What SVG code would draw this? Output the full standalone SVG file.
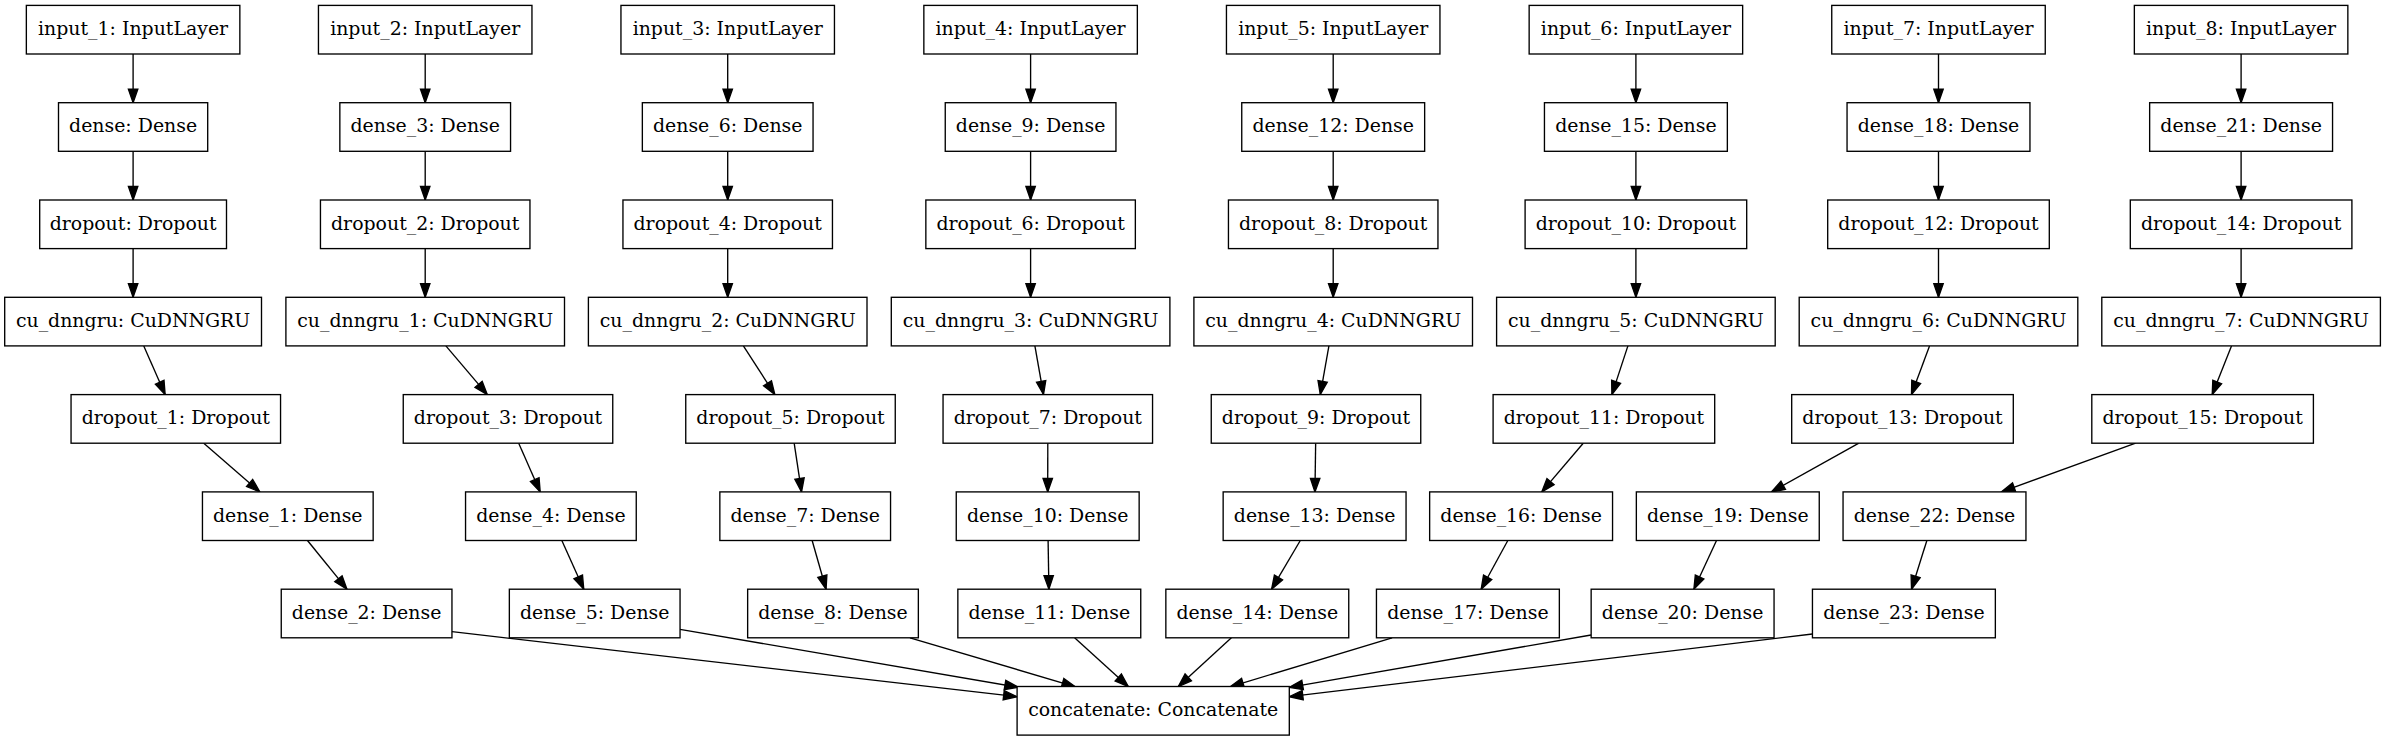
<svg xmlns="http://www.w3.org/2000/svg" width="2386" height="741" viewBox="0 0 2386 741">
<defs>
<style>
.n rect{fill:#fff;stroke:#000;stroke-width:1.35}
.n text{font-family:"DejaVu Serif",serif;font-size:18.9px;fill:#000;text-anchor:middle}
.e line{stroke:#000;stroke-width:1.35;fill:none;marker-end:url(#ah)}
</style>
<marker id="ah" markerUnits="userSpaceOnUse" markerWidth="16" markerHeight="12" refX="13.5" refY="0" orient="auto" viewBox="-1 -6 16 12" overflow="visible">
<path d="M0,-4.7 L13.5,0 L0,4.7 Z" fill="#000" stroke="#000" stroke-width="1.35"/>
</marker>
</defs>
<rect width="2386" height="741" fill="#fff"/>
<g id="connectors" class="e">
<!-- chain vertical edges -->
<line x1="133.1" y1="54" x2="133.1" y2="102.7"/>
<line x1="133.1" y1="151.3" x2="133.1" y2="200"/>
<line x1="133.1" y1="248.6" x2="133.1" y2="297.3"/>
<line x1="425.2" y1="54" x2="425.2" y2="102.7"/>
<line x1="425.2" y1="151.3" x2="425.2" y2="200"/>
<line x1="425.2" y1="248.6" x2="425.2" y2="297.3"/>
<line x1="727.7" y1="54" x2="727.7" y2="102.7"/>
<line x1="727.7" y1="151.3" x2="727.7" y2="200"/>
<line x1="727.7" y1="248.6" x2="727.7" y2="297.3"/>
<line x1="1030.6" y1="54" x2="1030.6" y2="102.7"/>
<line x1="1030.6" y1="151.3" x2="1030.6" y2="200"/>
<line x1="1030.6" y1="248.6" x2="1030.6" y2="297.3"/>
<line x1="1333.2" y1="54" x2="1333.2" y2="102.7"/>
<line x1="1333.2" y1="151.3" x2="1333.2" y2="200"/>
<line x1="1333.2" y1="248.6" x2="1333.2" y2="297.3"/>
<line x1="1635.9" y1="54" x2="1635.9" y2="102.7"/>
<line x1="1635.9" y1="151.3" x2="1635.9" y2="200"/>
<line x1="1635.9" y1="248.6" x2="1635.9" y2="297.3"/>
<line x1="1938.5" y1="54" x2="1938.5" y2="102.7"/>
<line x1="1938.5" y1="151.3" x2="1938.5" y2="200"/>
<line x1="1938.5" y1="248.6" x2="1938.5" y2="297.3"/>
<line x1="2241.1" y1="54" x2="2241.1" y2="102.7"/>
<line x1="2241.1" y1="151.3" x2="2241.1" y2="200"/>
<line x1="2241.1" y1="248.6" x2="2241.1" y2="297.3"/>
<!-- row3 -> row4 -->
<line x1="143.76" y1="345.9" x2="165.14" y2="394.6"/>
<line x1="445.88" y1="345.9" x2="487.32" y2="394.6"/>
<line x1="743.38" y1="345.9" x2="774.82" y2="394.6"/>
<line x1="1034.89" y1="345.9" x2="1043.51" y2="394.6"/>
<line x1="1328.91" y1="345.9" x2="1320.29" y2="394.6"/>
<line x1="1627.91" y1="345.9" x2="1611.89" y2="394.6"/>
<line x1="1929.51" y1="345.9" x2="1911.49" y2="394.6"/>
<line x1="2231.49" y1="345.9" x2="2212.21" y2="394.6"/>
<!-- row4 -> row5 -->
<line x1="203.77" y1="443.2" x2="259.83" y2="491.9"/>
<line x1="518.71" y1="443.2" x2="540.19" y2="491.9"/>
<line x1="794.17" y1="443.2" x2="801.53" y2="491.9"/>
<line x1="1047.8" y1="443.2" x2="1047.7" y2="491.9"/>
<line x1="1315.65" y1="443.2" x2="1314.95" y2="491.9"/>
<line x1="1583.22" y1="443.2" x2="1541.78" y2="491.9"/>
<line x1="1858.88" y1="443.2" x2="1771.42" y2="491.9"/>
<line x1="2135.65" y1="443.2" x2="2001.45" y2="491.9"/>
<!-- row5 -> row6 -->
<line x1="307.48" y1="540.5" x2="346.92" y2="589.2"/>
<line x1="561.84" y1="540.5" x2="583.76" y2="589.2"/>
<line x1="812.14" y1="540.5" x2="826.06" y2="589.2"/>
<line x1="1048.1" y1="540.5" x2="1048.9" y2="589.2"/>
<line x1="1300.29" y1="540.5" x2="1271.61" y2="589.2"/>
<line x1="1507.82" y1="540.5" x2="1481.18" y2="589.2"/>
<line x1="1716.51" y1="540.5" x2="1693.89" y2="589.2"/>
<line x1="1926.86" y1="540.5" x2="1911.54" y2="589.2"/>
<!-- row6 -> concatenate -->
<line x1="452" y1="631.7" x2="1017.1" y2="696.7"/>
<line x1="680" y1="629.3" x2="1018.3" y2="687.3"/>
<line x1="910" y1="637.8" x2="1075.5" y2="686.8"/>
<line x1="1074.6" y1="637.8" x2="1128.3" y2="686.5"/>
<line x1="1231.4" y1="637.8" x2="1178.3" y2="686.5"/>
<line x1="1392.1" y1="637.8" x2="1230" y2="686.8"/>
<line x1="1591.1" y1="635" x2="1289.3" y2="687.3"/>
<line x1="1812.4" y1="634" x2="1289.3" y2="696.7"/>
</g>
<!-- row 0 -->
<g id="input_1" class="n"><rect x="26.35" y="5.4" width="213.5" height="48.6"/><text x="133.1" y="35">input_1: InputLayer</text></g>
<g id="input_2" class="n"><rect x="318.45" y="5.4" width="213.5" height="48.6"/><text x="425.2" y="35">input_2: InputLayer</text></g>
<g id="input_3" class="n"><rect x="620.95" y="5.4" width="213.5" height="48.6"/><text x="727.7" y="35">input_3: InputLayer</text></g>
<g id="input_4" class="n"><rect x="923.85" y="5.4" width="213.5" height="48.6"/><text x="1030.6" y="35">input_4: InputLayer</text></g>
<g id="input_5" class="n"><rect x="1226.45" y="5.4" width="213.5" height="48.6"/><text x="1333.2" y="35">input_5: InputLayer</text></g>
<g id="input_6" class="n"><rect x="1529.15" y="5.4" width="213.5" height="48.6"/><text x="1635.9" y="35">input_6: InputLayer</text></g>
<g id="input_7" class="n"><rect x="1831.75" y="5.4" width="213.5" height="48.6"/><text x="1938.5" y="35">input_7: InputLayer</text></g>
<g id="input_8" class="n"><rect x="2134.35" y="5.4" width="213.5" height="48.6"/><text x="2241.1" y="35">input_8: InputLayer</text></g>
<!-- row 1 -->
<g id="dense" class="n"><rect x="58.5" y="102.7" width="149.2" height="48.6"/><text x="133.1" y="132.3">dense: Dense</text></g>
<g id="dense_3" class="n"><rect x="339.85" y="102.7" width="170.7" height="48.6"/><text x="425.2" y="132.3">dense_3: Dense</text></g>
<g id="dense_6" class="n"><rect x="642.35" y="102.7" width="170.7" height="48.6"/><text x="727.7" y="132.3">dense_6: Dense</text></g>
<g id="dense_9" class="n"><rect x="945.25" y="102.7" width="170.7" height="48.6"/><text x="1030.6" y="132.3">dense_9: Dense</text></g>
<g id="dense_12" class="n"><rect x="1241.75" y="102.7" width="182.9" height="48.6"/><text x="1333.2" y="132.3">dense_12: Dense</text></g>
<g id="dense_15" class="n"><rect x="1544.45" y="102.7" width="182.9" height="48.6"/><text x="1635.9" y="132.3">dense_15: Dense</text></g>
<g id="dense_18" class="n"><rect x="1847.05" y="102.7" width="182.9" height="48.6"/><text x="1938.5" y="132.3">dense_18: Dense</text></g>
<g id="dense_21" class="n"><rect x="2149.65" y="102.7" width="182.9" height="48.6"/><text x="2241.1" y="132.3">dense_21: Dense</text></g>
<!-- row 2 -->
<g id="dropout" class="n"><rect x="39.7" y="200" width="186.8" height="48.6"/><text x="133.1" y="229.6">dropout: Dropout</text></g>
<g id="dropout_2" class="n"><rect x="320.45" y="200" width="209.5" height="48.6"/><text x="425.2" y="229.6">dropout_2: Dropout</text></g>
<g id="dropout_4" class="n"><rect x="622.95" y="200" width="209.5" height="48.6"/><text x="727.7" y="229.6">dropout_4: Dropout</text></g>
<g id="dropout_6" class="n"><rect x="925.85" y="200" width="209.5" height="48.6"/><text x="1030.6" y="229.6">dropout_6: Dropout</text></g>
<g id="dropout_8" class="n"><rect x="1228.45" y="200" width="209.5" height="48.6"/><text x="1333.2" y="229.6">dropout_8: Dropout</text></g>
<g id="dropout_10" class="n"><rect x="1525.1" y="200" width="221.6" height="48.6"/><text x="1635.9" y="229.6">dropout_10: Dropout</text></g>
<g id="dropout_12" class="n"><rect x="1827.7" y="200" width="221.6" height="48.6"/><text x="1938.5" y="229.6">dropout_12: Dropout</text></g>
<g id="dropout_14" class="n"><rect x="2130.3" y="200" width="221.6" height="48.6"/><text x="2241.1" y="229.6">dropout_14: Dropout</text></g>
<!-- row 3 -->
<g id="cu_dnngru" class="n"><rect x="4.7" y="297.3" width="256.8" height="48.6"/><text x="133.1" y="326.9">cu_dnngru: CuDNNGRU</text></g>
<g id="cu_dnngru_1" class="n"><rect x="285.9" y="297.3" width="278.6" height="48.6"/><text x="425.2" y="326.9">cu_dnngru_1: CuDNNGRU</text></g>
<g id="cu_dnngru_2" class="n"><rect x="588.4" y="297.3" width="278.6" height="48.6"/><text x="727.7" y="326.9">cu_dnngru_2: CuDNNGRU</text></g>
<g id="cu_dnngru_3" class="n"><rect x="891.3" y="297.3" width="278.6" height="48.6"/><text x="1030.6" y="326.9">cu_dnngru_3: CuDNNGRU</text></g>
<g id="cu_dnngru_4" class="n"><rect x="1193.9" y="297.3" width="278.6" height="48.6"/><text x="1333.2" y="326.9">cu_dnngru_4: CuDNNGRU</text></g>
<g id="cu_dnngru_5" class="n"><rect x="1496.6" y="297.3" width="278.6" height="48.6"/><text x="1635.9" y="326.9">cu_dnngru_5: CuDNNGRU</text></g>
<g id="cu_dnngru_6" class="n"><rect x="1799.2" y="297.3" width="278.6" height="48.6"/><text x="1938.5" y="326.9">cu_dnngru_6: CuDNNGRU</text></g>
<g id="cu_dnngru_7" class="n"><rect x="2101.8" y="297.3" width="278.6" height="48.6"/><text x="2241.1" y="326.9">cu_dnngru_7: CuDNNGRU</text></g>
<!-- row 4 -->
<g id="dropout_1" class="n"><rect x="71.05" y="394.6" width="209.5" height="48.6"/><text x="175.8" y="424.2">dropout_1: Dropout</text></g>
<g id="dropout_3" class="n"><rect x="403.25" y="394.6" width="209.5" height="48.6"/><text x="508" y="424.2">dropout_3: Dropout</text></g>
<g id="dropout_5" class="n"><rect x="685.75" y="394.6" width="209.5" height="48.6"/><text x="790.5" y="424.2">dropout_5: Dropout</text></g>
<g id="dropout_7" class="n"><rect x="943.05" y="394.6" width="209.5" height="48.6"/><text x="1047.8" y="424.2">dropout_7: Dropout</text></g>
<g id="dropout_9" class="n"><rect x="1211.25" y="394.6" width="209.5" height="48.6"/><text x="1316" y="424.2">dropout_9: Dropout</text></g>
<g id="dropout_11" class="n"><rect x="1493.1" y="394.6" width="221.6" height="48.6"/><text x="1603.9" y="424.2">dropout_11: Dropout</text></g>
<g id="dropout_13" class="n"><rect x="1791.7" y="394.6" width="221.6" height="48.6"/><text x="1902.5" y="424.2">dropout_13: Dropout</text></g>
<g id="dropout_15" class="n"><rect x="2091.8" y="394.6" width="221.6" height="48.6"/><text x="2202.6" y="424.2">dropout_15: Dropout</text></g>
<!-- row 5 -->
<g id="dense_1" class="n"><rect x="202.45" y="491.9" width="170.7" height="48.6"/><text x="287.8" y="521.5">dense_1: Dense</text></g>
<g id="dense_4" class="n"><rect x="465.55" y="491.9" width="170.7" height="48.6"/><text x="550.9" y="521.5">dense_4: Dense</text></g>
<g id="dense_7" class="n"><rect x="719.85" y="491.9" width="170.7" height="48.6"/><text x="805.2" y="521.5">dense_7: Dense</text></g>
<g id="dense_10" class="n"><rect x="956.25" y="491.9" width="182.9" height="48.6"/><text x="1047.7" y="521.5">dense_10: Dense</text></g>
<g id="dense_13" class="n"><rect x="1223.15" y="491.9" width="182.9" height="48.6"/><text x="1314.6" y="521.5">dense_13: Dense</text></g>
<g id="dense_16" class="n"><rect x="1429.65" y="491.9" width="182.9" height="48.6"/><text x="1521.1" y="521.5">dense_16: Dense</text></g>
<g id="dense_19" class="n"><rect x="1636.35" y="491.9" width="182.9" height="48.6"/><text x="1727.8" y="521.5">dense_19: Dense</text></g>
<g id="dense_22" class="n"><rect x="1843.05" y="491.9" width="182.9" height="48.6"/><text x="1934.5" y="521.5">dense_22: Dense</text></g>
<!-- row 6 -->
<g id="dense_2" class="n"><rect x="281.25" y="589.2" width="170.7" height="48.6"/><text x="366.6" y="618.8">dense_2: Dense</text></g>
<g id="dense_5" class="n"><rect x="509.35" y="589.2" width="170.7" height="48.6"/><text x="594.7" y="618.8">dense_5: Dense</text></g>
<g id="dense_8" class="n"><rect x="747.65" y="589.2" width="170.7" height="48.6"/><text x="833" y="618.8">dense_8: Dense</text></g>
<g id="dense_11" class="n"><rect x="957.85" y="589.2" width="182.9" height="48.6"/><text x="1049.3" y="618.8">dense_11: Dense</text></g>
<g id="dense_14" class="n"><rect x="1165.85" y="589.2" width="182.9" height="48.6"/><text x="1257.3" y="618.8">dense_14: Dense</text></g>
<g id="dense_17" class="n"><rect x="1376.45" y="589.2" width="182.9" height="48.6"/><text x="1467.9" y="618.8">dense_17: Dense</text></g>
<g id="dense_20" class="n"><rect x="1591.15" y="589.2" width="182.9" height="48.6"/><text x="1682.6" y="618.8">dense_20: Dense</text></g>
<g id="dense_23" class="n"><rect x="1812.45" y="589.2" width="182.9" height="48.6"/><text x="1903.9" y="618.8">dense_23: Dense</text></g>
<!-- row 7 -->
<g id="concatenate" class="n"><rect x="1017.1" y="686.5" width="272.2" height="48.6"/><text x="1153.2" y="716.1">concatenate: Concatenate</text></g>
</svg>
